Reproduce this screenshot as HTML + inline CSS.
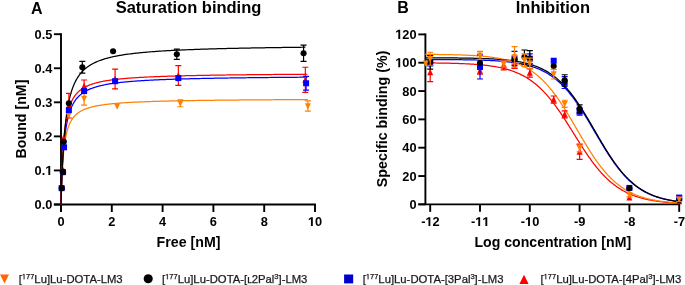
<!DOCTYPE html>
<html><head><meta charset="utf-8"><style>
html,body{margin:0;padding:0;background:#fff;width:685px;height:285px;overflow:hidden}
svg{display:block;will-change:transform}
.g1{fill:none;stroke:none}
</style></head><body>
<svg width="685" height="285" viewBox="0 0 685 285">
<rect width="685" height="285" fill="#fff"></rect>
<path d="M61 33.25V212" stroke="#000" stroke-width="1.9"></path>
<path d="M53.9 204.5H315.95" stroke="#000" stroke-width="1.9"></path>
<path d="M53.9 204.5H61" stroke="#000" stroke-width="1.9"></path>
<path d="M53.9 170.44H61" stroke="#000" stroke-width="1.9"></path>
<path d="M53.9 136.38H61" stroke="#000" stroke-width="1.9"></path>
<path d="M53.9 102.32H61" stroke="#000" stroke-width="1.9"></path>
<path d="M53.9 68.26H61" stroke="#000" stroke-width="1.9"></path>
<path d="M53.9 34.2H61" stroke="#000" stroke-width="1.9"></path>
<path d="M61 204.5V212" stroke="#000" stroke-width="1.9"></path>
<path d="M111.8 204.5V212" stroke="#000" stroke-width="1.9"></path>
<path d="M162.6 204.5V212" stroke="#000" stroke-width="1.9"></path>
<path d="M213.4 204.5V212" stroke="#000" stroke-width="1.9"></path>
<path d="M264.2 204.5V212" stroke="#000" stroke-width="1.9"></path>
<path d="M315 204.5V212" stroke="#000" stroke-width="1.9"></path>
<path d="M425.4 33.45V204.35" stroke="#000" stroke-width="1.9"></path>
<path d="M418.3 204.35H680.15" stroke="#000" stroke-width="1.9"></path>
<path d="M418.3 204.35H425.4" stroke="#000" stroke-width="1.9"></path>
<path d="M418.3 176.03H425.4" stroke="#000" stroke-width="1.9"></path>
<path d="M418.3 147.7H425.4" stroke="#000" stroke-width="1.9"></path>
<path d="M418.3 119.38H425.4" stroke="#000" stroke-width="1.9"></path>
<path d="M418.3 91.05H425.4" stroke="#000" stroke-width="1.9"></path>
<path d="M418.3 62.72H425.4" stroke="#000" stroke-width="1.9"></path>
<path d="M418.3 34.4H425.4" stroke="#000" stroke-width="1.9"></path>
<path d="M430.2 204.35V211.85" stroke="#000" stroke-width="1.9"></path>
<path d="M480 204.35V211.85" stroke="#000" stroke-width="1.9"></path>
<path d="M529.8 204.35V211.85" stroke="#000" stroke-width="1.9"></path>
<path d="M579.6 204.35V211.85" stroke="#000" stroke-width="1.9"></path>
<path d="M629.4 204.35V211.85" stroke="#000" stroke-width="1.9"></path>
<path d="M679.2 204.35V211.85" stroke="#000" stroke-width="1.9"></path>
<path d="M61 204.5 L61 204.47 L61 204.34 L61.01 204.12 L61.02 203.78 L61.03 203.33 L61.05 202.77 L61.06 202.08 L61.09 201.28 L61.11 200.37 L61.14 199.34 L61.17 198.21 L61.21 196.97 L61.25 195.65 L61.29 194.23 L61.34 192.73 L61.39 191.16 L61.45 189.53 L61.51 187.84 L61.57 186.1 L61.64 184.32 L61.71 182.51 L61.79 180.67 L61.87 178.81 L61.95 176.95 L62.04 175.07 L62.14 173.21 L62.24 171.34 L62.34 169.49 L62.45 167.66 L62.56 165.84 L62.67 164.06 L62.8 162.29 L62.92 160.56 L63.05 158.86 L63.19 157.2 L63.33 155.57 L63.47 153.97 L63.62 152.42 L63.77 150.9 L63.93 149.43 L64.1 147.99 L64.27 146.59 L64.44 145.24 L64.62 143.92 L64.8 142.64 L64.99 141.39 L65.18 140.19 L65.38 139.02 L65.58 137.89 L65.79 136.8 L66.01 135.74 L66.22 134.71 L66.45 133.71 L66.68 132.75 L66.91 131.82 L67.15 130.92 L67.39 130.05 L67.64 129.21 L67.9 128.39 L68.16 127.6 L68.42 126.84 L68.69 126.1 L68.97 125.39 L69.25 124.69 L69.54 124.03 L69.83 123.38 L70.12 122.75 L70.43 122.15 L70.73 121.56 L71.05 120.99 L71.37 120.44 L71.69 119.91 L72.02 119.39 L72.35 118.89 L72.69 118.41 L73.04 117.94 L73.39 117.49 L73.75 117.05 L74.11 116.62 L74.48 116.21 L74.85 115.81 L75.23 115.42 L75.62 115.04 L76.01 114.67 L76.4 114.32 L76.8 113.97 L77.21 113.64 L77.62 113.31 L78.04 113 L78.46 112.69 L78.89 112.39 L79.33 112.1 L79.77 111.82 L80.22 111.55 L80.67 111.28 L81.13 111.02 L81.59 110.77 L82.06 110.53 L82.54 110.29 L83.02 110.06 L83.51 109.83 L84 109.61 L84.5 109.4 L85.01 109.19 L85.52 108.99 L86.03 108.79 L86.56 108.6 L87.08 108.41 L87.62 108.23 L88.16 108.05 L88.7 107.88 L89.26 107.71 L89.81 107.55 L90.38 107.39 L90.95 107.23 L91.52 107.08 L92.11 106.93 L92.69 106.78 L93.29 106.64 L93.89 106.5 L94.49 106.37 L95.11 106.23 L95.72 106.1 L96.35 105.98 L96.98 105.85 L97.61 105.73 L98.26 105.62 L98.9 105.5 L99.56 105.39 L100.22 105.28 L100.89 105.17 L101.56 105.07 L102.24 104.96 L102.92 104.86 L103.62 104.76 L104.31 104.67 L105.02 104.57 L105.73 104.48 L106.44 104.39 L107.17 104.3 L107.89 104.22 L108.63 104.13 L109.37 104.05 L110.12 103.97 L110.87 103.89 L111.63 103.81 L112.4 103.73 L113.17 103.66 L113.95 103.58 L114.73 103.51 L115.52 103.44 L116.32 103.37 L117.12 103.3 L117.93 103.24 L118.75 103.17 L119.57 103.11 L120.4 103.04 L121.24 102.98 L122.08 102.92 L122.93 102.86 L123.78 102.81 L124.65 102.75 L125.51 102.69 L126.39 102.64 L127.27 102.58 L128.15 102.53 L129.05 102.48 L129.95 102.43 L130.85 102.38 L131.77 102.33 L132.68 102.28 L133.61 102.23 L134.54 102.18 L135.48 102.14 L136.43 102.09 L137.38 102.05 L138.33 102.01 L139.3 101.96 L140.27 101.92 L141.25 101.88 L142.23 101.84 L143.22 101.8 L144.22 101.76 L145.22 101.72 L146.23 101.68 L147.25 101.64 L148.27 101.61 L149.3 101.57 L150.34 101.54 L151.38 101.5 L152.43 101.47 L153.49 101.43 L154.55 101.4 L155.62 101.37 L156.7 101.33 L157.78 101.3 L158.87 101.27 L159.97 101.24 L161.07 101.21 L162.18 101.18 L163.3 101.15 L164.42 101.12 L165.55 101.09 L166.69 101.06 L167.83 101.04 L168.98 101.01 L170.14 100.98 L171.3 100.95 L172.47 100.93 L173.65 100.9 L174.83 100.88 L176.02 100.85 L177.22 100.83 L178.42 100.8 L179.63 100.78 L180.85 100.76 L182.07 100.73 L183.3 100.71 L184.54 100.69 L185.79 100.66 L187.04 100.64 L188.29 100.62 L189.56 100.6 L190.83 100.58 L192.11 100.56 L193.4 100.54 L194.69 100.52 L195.99 100.5 L197.29 100.48 L198.61 100.46 L199.92 100.44 L201.25 100.42 L202.58 100.4 L203.92 100.38 L205.27 100.36 L206.63 100.35 L207.99 100.33 L209.36 100.31 L210.73 100.29 L212.11 100.28 L213.5 100.26 L214.9 100.24 L216.3 100.23 L217.71 100.21 L219.12 100.2 L220.55 100.18 L221.98 100.16 L223.42 100.15 L224.86 100.13 L226.31 100.12 L227.77 100.1 L229.23 100.09 L230.71 100.08 L232.19 100.06 L233.67 100.05 L235.17 100.03 L236.67 100.02 L238.17 100.01 L239.69 99.99 L241.21 99.98 L242.74 99.97 L244.27 99.95 L245.81 99.94 L247.36 99.93 L248.92 99.92 L250.48 99.9 L252.05 99.89 L253.63 99.88 L255.22 99.87 L256.81 99.86 L258.41 99.84 L260.01 99.83 L261.63 99.82 L263.25 99.81 L264.88 99.8 L266.51 99.79 L268.15 99.78 L269.8 99.77 L271.46 99.76 L273.12 99.75 L274.79 99.73 L276.47 99.72 L278.15 99.71 L279.84 99.7 L281.54 99.69 L283.25 99.68 L284.96 99.68 L286.68 99.67 L288.41 99.66 L290.14 99.65 L291.89 99.64 L293.64 99.63 L295.39 99.62 L297.16 99.61 L298.93 99.6 L300.7 99.59 L302.49 99.58 L304.28 99.58 L306.08 99.57 L307.89 99.56" stroke="#FF8000" stroke-width="1.25" fill="none" stroke-linejoin="round"></path>
<path d="M61 204.5 L61 204.47 L61 204.35 L61.01 204.13 L61.02 203.81 L61.03 203.37 L61.05 202.83 L61.06 202.16 L61.08 201.38 L61.11 200.49 L61.14 199.48 L61.17 198.37 L61.21 197.15 L61.25 195.83 L61.29 194.41 L61.34 192.91 L61.39 191.32 L61.45 189.65 L61.51 187.92 L61.57 186.13 L61.64 184.27 L61.71 182.37 L61.79 180.44 L61.87 178.46 L61.95 176.46 L62.04 174.44 L62.13 172.4 L62.23 170.36 L62.34 168.31 L62.44 166.27 L62.55 164.23 L62.67 162.21 L62.79 160.2 L62.92 158.21 L63.05 156.24 L63.18 154.3 L63.32 152.38 L63.47 150.5 L63.61 148.65 L63.77 146.83 L63.93 145.05 L64.09 143.3 L64.26 141.6 L64.43 139.93 L64.61 138.29 L64.79 136.7 L64.98 135.15 L65.17 133.63 L65.37 132.15 L65.57 130.72 L65.78 129.32 L66 127.95 L66.21 126.63 L66.44 125.34 L66.67 124.09 L66.9 122.87 L67.14 121.69 L67.38 120.54 L67.63 119.42 L67.88 118.34 L68.14 117.28 L68.41 116.26 L68.68 115.27 L68.95 114.3 L69.23 113.37 L69.52 112.46 L69.81 111.58 L70.11 110.73 L70.41 109.9 L70.71 109.09 L71.03 108.31 L71.34 107.55 L71.67 106.81 L72 106.1 L72.33 105.4 L72.67 104.73 L73.02 104.07 L73.37 103.44 L73.72 102.82 L74.08 102.22 L74.45 101.64 L74.82 101.07 L75.2 100.52 L75.59 99.98 L75.97 99.46 L76.37 98.96 L76.77 98.47 L77.18 97.99 L77.59 97.53 L78.01 97.07 L78.43 96.63 L78.86 96.21 L79.29 95.79 L79.73 95.39 L80.18 94.99 L80.63 94.61 L81.09 94.23 L81.55 93.87 L82.02 93.52 L82.49 93.17 L82.98 92.84 L83.46 92.51 L83.95 92.19 L84.45 91.88 L84.96 91.58 L85.47 91.28 L85.98 90.99 L86.5 90.71 L87.03 90.44 L87.56 90.17 L88.1 89.91 L88.65 89.66 L89.2 89.41 L89.75 89.17 L90.32 88.93 L90.89 88.7 L91.46 88.47 L92.04 88.25 L92.63 88.04 L93.22 87.83 L93.82 87.62 L94.42 87.42 L95.04 87.23 L95.65 87.04 L96.27 86.85 L96.9 86.67 L97.54 86.49 L98.18 86.31 L98.83 86.14 L99.48 85.97 L100.14 85.81 L100.8 85.65 L101.48 85.49 L102.15 85.34 L102.84 85.19 L103.53 85.04 L104.22 84.9 L104.93 84.76 L105.63 84.62 L106.35 84.49 L107.07 84.35 L107.8 84.23 L108.53 84.1 L109.27 83.97 L110.02 83.85 L110.77 83.73 L111.53 83.62 L112.29 83.5 L113.06 83.39 L113.84 83.28 L114.62 83.17 L115.41 83.07 L116.21 82.96 L117.01 82.86 L117.82 82.76 L118.63 82.66 L119.45 82.57 L120.28 82.47 L121.12 82.38 L121.96 82.29 L122.8 82.2 L123.65 82.11 L124.51 82.02 L125.38 81.94 L126.25 81.86 L127.13 81.78 L128.02 81.7 L128.91 81.62 L129.8 81.54 L130.71 81.46 L131.62 81.39 L132.54 81.32 L133.46 81.25 L134.39 81.17 L135.33 81.11 L136.27 81.04 L137.22 80.97 L138.18 80.9 L139.14 80.84 L140.11 80.78 L141.08 80.71 L142.06 80.65 L143.05 80.59 L144.05 80.53 L145.05 80.47 L146.06 80.41 L147.07 80.36 L148.09 80.3 L149.12 80.25 L150.16 80.19 L151.2 80.14 L152.25 80.09 L153.3 80.04 L154.36 79.99 L155.43 79.94 L156.5 79.89 L157.58 79.84 L158.67 79.79 L159.76 79.74 L160.87 79.7 L161.97 79.65 L163.09 79.61 L164.21 79.56 L165.33 79.52 L166.47 79.48 L167.61 79.44 L168.76 79.39 L169.91 79.35 L171.07 79.31 L172.24 79.27 L173.41 79.23 L174.6 79.2 L175.78 79.16 L176.98 79.12 L178.18 79.08 L179.39 79.05 L180.6 79.01 L181.82 78.98 L183.05 78.94 L184.29 78.91 L185.53 78.87 L186.78 78.84 L188.03 78.81 L189.29 78.77 L190.56 78.74 L191.84 78.71 L193.12 78.68 L194.41 78.65 L195.71 78.62 L197.01 78.59 L198.32 78.56 L199.64 78.53 L200.96 78.5 L202.29 78.47 L203.63 78.44 L204.98 78.42 L206.33 78.39 L207.68 78.36 L209.05 78.33 L210.42 78.31 L211.8 78.28 L213.19 78.26 L214.58 78.23 L215.98 78.21 L217.39 78.18 L218.8 78.16 L220.22 78.13 L221.65 78.11 L223.08 78.09 L224.52 78.06 L225.97 78.04 L227.43 78.02 L228.89 78 L230.36 77.97 L231.83 77.95 L233.32 77.93 L234.81 77.91 L236.3 77.89 L237.81 77.87 L239.32 77.85 L240.84 77.83 L242.36 77.81 L243.89 77.79 L245.43 77.77 L246.98 77.75 L248.53 77.73 L250.09 77.71 L251.66 77.69 L253.24 77.67 L254.82 77.66 L256.41 77.64 L258 77.62 L259.61 77.6 L261.21 77.59 L262.83 77.57 L264.46 77.55 L266.09 77.54 L267.73 77.52 L269.37 77.5 L271.02 77.49 L272.68 77.47 L274.35 77.45 L276.02 77.44 L277.7 77.42 L279.39 77.41 L281.09 77.39 L282.79 77.38 L284.5 77.36 L286.22 77.35 L287.94 77.33 L289.67 77.32 L291.41 77.31 L293.16 77.29 L294.91 77.28 L296.67 77.26 L298.44 77.25 L300.21 77.24 L301.99 77.22 L303.78 77.21 L305.58 77.2 L307.38 77.18" stroke="#0000FF" stroke-width="1.25" fill="none" stroke-linejoin="round"></path>
<path d="M61 204.5 L61 204.46 L61 204.32 L61.01 204.06 L61.02 203.68 L61.03 203.16 L61.05 202.51 L61.06 201.73 L61.08 200.81 L61.11 199.76 L61.14 198.58 L61.17 197.27 L61.21 195.84 L61.25 194.31 L61.29 192.66 L61.34 190.92 L61.39 189.09 L61.45 187.18 L61.51 185.2 L61.57 183.16 L61.64 181.07 L61.71 178.93 L61.79 176.75 L61.87 174.55 L61.95 172.32 L62.04 170.09 L62.13 167.85 L62.23 165.61 L62.34 163.39 L62.44 161.17 L62.55 158.97 L62.67 156.8 L62.79 154.66 L62.92 152.54 L63.05 150.46 L63.18 148.41 L63.32 146.41 L63.47 144.44 L63.61 142.52 L63.77 140.64 L63.93 138.81 L64.09 137.02 L64.26 135.27 L64.43 133.57 L64.61 131.92 L64.79 130.31 L64.98 128.75 L65.17 127.23 L65.37 125.76 L65.57 124.32 L65.78 122.94 L66 121.59 L66.21 120.28 L66.44 119.01 L66.67 117.79 L66.9 116.6 L67.14 115.44 L67.38 114.33 L67.63 113.25 L67.88 112.2 L68.14 111.18 L68.41 110.2 L68.68 109.25 L68.95 108.32 L69.23 107.43 L69.52 106.56 L69.81 105.73 L70.11 104.91 L70.41 104.13 L70.71 103.36 L71.03 102.62 L71.34 101.91 L71.67 101.21 L72 100.54 L72.33 99.89 L72.67 99.26 L73.02 98.65 L73.37 98.05 L73.72 97.48 L74.08 96.92 L74.45 96.37 L74.82 95.85 L75.2 95.34 L75.59 94.84 L75.97 94.36 L76.37 93.89 L76.77 93.44 L77.18 93 L77.59 92.57 L78.01 92.15 L78.43 91.75 L78.86 91.36 L79.29 90.97 L79.73 90.6 L80.18 90.24 L80.63 89.89 L81.09 89.55 L81.55 89.22 L82.02 88.89 L82.49 88.58 L82.98 88.27 L83.46 87.97 L83.95 87.68 L84.45 87.4 L84.96 87.12 L85.47 86.86 L85.98 86.59 L86.5 86.34 L87.03 86.09 L87.56 85.85 L88.1 85.61 L88.65 85.38 L89.2 85.16 L89.75 84.94 L90.32 84.73 L90.89 84.52 L91.46 84.31 L92.04 84.11 L92.63 83.92 L93.22 83.73 L93.82 83.55 L94.42 83.37 L95.04 83.19 L95.65 83.02 L96.27 82.85 L96.9 82.68 L97.54 82.52 L98.18 82.37 L98.83 82.21 L99.48 82.06 L100.14 81.92 L100.8 81.77 L101.48 81.63 L102.15 81.49 L102.84 81.36 L103.53 81.23 L104.22 81.1 L104.93 80.97 L105.63 80.85 L106.35 80.73 L107.07 80.61 L107.8 80.5 L108.53 80.38 L109.27 80.27 L110.02 80.16 L110.77 80.06 L111.53 79.95 L112.29 79.85 L113.06 79.75 L113.84 79.65 L114.62 79.55 L115.41 79.46 L116.21 79.37 L117.01 79.28 L117.82 79.19 L118.63 79.1 L119.45 79.01 L120.28 78.93 L121.12 78.85 L121.96 78.77 L122.8 78.69 L123.65 78.61 L124.51 78.53 L125.38 78.46 L126.25 78.38 L127.13 78.31 L128.02 78.24 L128.91 78.17 L129.8 78.1 L130.71 78.03 L131.62 77.97 L132.54 77.9 L133.46 77.84 L134.39 77.78 L135.33 77.71 L136.27 77.65 L137.22 77.59 L138.18 77.54 L139.14 77.48 L140.11 77.42 L141.08 77.37 L142.06 77.31 L143.05 77.26 L144.05 77.2 L145.05 77.15 L146.06 77.1 L147.07 77.05 L148.09 77 L149.12 76.95 L150.16 76.9 L151.2 76.86 L152.25 76.81 L153.3 76.77 L154.36 76.72 L155.43 76.68 L156.5 76.63 L157.58 76.59 L158.67 76.55 L159.76 76.51 L160.87 76.47 L161.97 76.43 L163.09 76.39 L164.21 76.35 L165.33 76.31 L166.47 76.27 L167.61 76.23 L168.76 76.2 L169.91 76.16 L171.07 76.12 L172.24 76.09 L173.41 76.05 L174.6 76.02 L175.78 75.99 L176.98 75.95 L178.18 75.92 L179.39 75.89 L180.6 75.86 L181.82 75.83 L183.05 75.79 L184.29 75.76 L185.53 75.73 L186.78 75.7 L188.03 75.68 L189.29 75.65 L190.56 75.62 L191.84 75.59 L193.12 75.56 L194.41 75.54 L195.71 75.51 L197.01 75.48 L198.32 75.46 L199.64 75.43 L200.96 75.41 L202.29 75.38 L203.63 75.36 L204.98 75.33 L206.33 75.31 L207.68 75.28 L209.05 75.26 L210.42 75.24 L211.8 75.21 L213.19 75.19 L214.58 75.17 L215.98 75.15 L217.39 75.13 L218.8 75.1 L220.22 75.08 L221.65 75.06 L223.08 75.04 L224.52 75.02 L225.97 75 L227.43 74.98 L228.89 74.96 L230.36 74.94 L231.83 74.92 L233.32 74.9 L234.81 74.89 L236.3 74.87 L237.81 74.85 L239.32 74.83 L240.84 74.81 L242.36 74.79 L243.89 74.78 L245.43 74.76 L246.98 74.74 L248.53 74.73 L250.09 74.71 L251.66 74.69 L253.24 74.68 L254.82 74.66 L256.41 74.65 L258 74.63 L259.61 74.61 L261.21 74.6 L262.83 74.58 L264.46 74.57 L266.09 74.55 L267.73 74.54 L269.37 74.53 L271.02 74.51 L272.68 74.5 L274.35 74.48 L276.02 74.47 L277.7 74.46 L279.39 74.44 L281.09 74.43 L282.79 74.42 L284.5 74.4 L286.22 74.39 L287.94 74.38 L289.67 74.36 L291.41 74.35 L293.16 74.34 L294.91 74.33 L296.67 74.32 L298.44 74.3 L300.21 74.29 L301.99 74.28 L303.78 74.27 L305.58 74.26 L307.38 74.25" stroke="#FF0000" stroke-width="1.25" fill="none" stroke-linejoin="round"></path>
<path d="M61 204.5 L61 204.47 L61 204.35 L61.01 204.14 L61.02 203.83 L61.03 203.4 L61.04 202.87 L61.06 202.22 L61.08 201.46 L61.11 200.58 L61.14 199.59 L61.17 198.48 L61.21 197.27 L61.24 195.96 L61.29 194.54 L61.34 193.02 L61.39 191.41 L61.44 189.72 L61.5 187.94 L61.56 186.09 L61.63 184.17 L61.7 182.19 L61.78 180.15 L61.86 178.06 L61.94 175.93 L62.03 173.76 L62.13 171.56 L62.22 169.33 L62.32 167.09 L62.43 164.83 L62.54 162.56 L62.66 160.29 L62.78 158.02 L62.9 155.76 L63.03 153.5 L63.16 151.26 L63.3 149.04 L63.45 146.83 L63.59 144.65 L63.75 142.5 L63.9 140.37 L64.07 138.27 L64.23 136.2 L64.4 134.17 L64.58 132.17 L64.76 130.2 L64.95 128.27 L65.14 126.38 L65.34 124.53 L65.54 122.71 L65.74 120.94 L65.95 119.2 L66.17 117.5 L66.39 115.84 L66.62 114.22 L66.85 112.63 L67.09 111.08 L67.33 109.57 L67.57 108.1 L67.83 106.66 L68.08 105.26 L68.35 103.9 L68.61 102.57 L68.89 101.27 L69.16 100.01 L69.45 98.78 L69.74 97.58 L70.03 96.41 L70.33 95.27 L70.63 94.16 L70.94 93.08 L71.26 92.03 L71.58 91.01 L71.91 90.01 L72.24 89.04 L72.57 88.1 L72.92 87.18 L73.26 86.29 L73.62 85.41 L73.98 84.57 L74.34 83.74 L74.71 82.93 L75.08 82.15 L75.46 81.39 L75.85 80.64 L76.24 79.92 L76.64 79.21 L77.04 78.52 L77.45 77.85 L77.87 77.2 L78.29 76.57 L78.71 75.95 L79.14 75.34 L79.58 74.75 L80.02 74.18 L80.47 73.62 L80.92 73.07 L81.38 72.54 L81.85 72.02 L82.32 71.51 L82.79 71.02 L83.28 70.54 L83.76 70.07 L84.26 69.61 L84.76 69.16 L85.26 68.72 L85.78 68.3 L86.29 67.88 L86.82 67.47 L87.34 67.08 L87.88 66.69 L88.42 66.31 L88.97 65.94 L89.52 65.58 L90.08 65.22 L90.64 64.88 L91.21 64.54 L91.79 64.21 L92.37 63.89 L92.96 63.57 L93.55 63.26 L94.15 62.96 L94.75 62.67 L95.37 62.38 L95.98 62.1 L96.61 61.82 L97.24 61.55 L97.87 61.29 L98.51 61.03 L99.16 60.78 L99.82 60.53 L100.48 60.29 L101.14 60.05 L101.81 59.82 L102.49 59.59 L103.18 59.36 L103.87 59.15 L104.56 58.93 L105.27 58.72 L105.98 58.52 L106.69 58.31 L107.41 58.12 L108.14 57.92 L108.87 57.73 L109.61 57.55 L110.36 57.37 L111.11 57.19 L111.87 57.01 L112.63 56.84 L113.4 56.67 L114.18 56.51 L114.96 56.34 L115.75 56.18 L116.55 56.03 L117.35 55.87 L118.16 55.72 L118.97 55.58 L119.79 55.43 L120.62 55.29 L121.45 55.15 L122.29 55.01 L123.14 54.88 L123.99 54.74 L124.85 54.61 L125.71 54.49 L126.59 54.36 L127.46 54.24 L128.35 54.12 L129.24 54 L130.13 53.88 L131.04 53.77 L131.95 53.65 L132.86 53.54 L133.79 53.43 L134.71 53.33 L135.65 53.22 L136.59 53.12 L137.54 53.01 L138.49 52.91 L139.45 52.82 L140.42 52.72 L141.4 52.62 L142.38 52.53 L143.36 52.44 L144.36 52.35 L145.36 52.26 L146.36 52.17 L147.38 52.08 L148.4 52 L149.42 51.91 L150.45 51.83 L151.49 51.75 L152.54 51.67 L153.59 51.59 L154.65 51.51 L155.71 51.44 L156.79 51.36 L157.87 51.29 L158.95 51.22 L160.04 51.14 L161.14 51.07 L162.24 51 L163.36 50.93 L164.47 50.87 L165.6 50.8 L166.73 50.73 L167.87 50.67 L169.01 50.61 L170.16 50.54 L171.32 50.48 L172.49 50.42 L173.66 50.36 L174.84 50.3 L176.02 50.24 L177.21 50.19 L178.41 50.13 L179.62 50.07 L180.83 50.02 L182.04 49.96 L183.27 49.91 L184.5 49.86 L185.74 49.8 L186.98 49.75 L188.24 49.7 L189.5 49.65 L190.76 49.6 L192.03 49.55 L193.31 49.51 L194.6 49.46 L195.89 49.41 L197.19 49.37 L198.5 49.32 L199.81 49.28 L201.13 49.23 L202.45 49.19 L203.79 49.14 L205.13 49.1 L206.48 49.06 L207.83 49.02 L209.19 48.98 L210.56 48.94 L211.93 48.9 L213.31 48.86 L214.7 48.82 L216.1 48.78 L217.5 48.74 L218.91 48.7 L220.32 48.67 L221.74 48.63 L223.17 48.59 L224.61 48.56 L226.05 48.52 L227.5 48.49 L228.96 48.45 L230.42 48.42 L231.9 48.39 L233.37 48.35 L234.86 48.32 L236.35 48.29 L237.85 48.26 L239.35 48.22 L240.87 48.19 L242.39 48.16 L243.91 48.13 L245.45 48.1 L246.99 48.07 L248.53 48.04 L250.09 48.01 L251.65 47.98 L253.22 47.96 L254.79 47.93 L256.38 47.9 L257.97 47.87 L259.56 47.84 L261.17 47.82 L262.78 47.79 L264.4 47.76 L266.02 47.74 L267.65 47.71 L269.29 47.69 L270.94 47.66 L272.59 47.64 L274.25 47.61 L275.92 47.59 L277.59 47.57 L279.27 47.54 L280.96 47.52 L282.66 47.49 L284.36 47.47 L286.07 47.45 L287.79 47.43 L289.51 47.4 L291.24 47.38 L292.98 47.36 L294.73 47.34 L296.48 47.32 L298.24 47.3 L300 47.28 L301.78 47.25 L303.56 47.23 L305.35 47.21" stroke="#000000" stroke-width="1.25" fill="none" stroke-linejoin="round"></path>
<path d="M84.11 92.1V105.04M81.11 92.1H87.11M81.11 105.04H87.11" stroke="#FF8000" stroke-width="1.2" fill="none"></path>
<path d="M180.38 99.94V106.75M177.38 99.94H183.38M177.38 106.75H183.38" stroke="#FF8000" stroke-width="1.2" fill="none"></path>
<path d="M307.89 100.96V111.18M304.89 100.96H310.89M304.89 111.18H310.89" stroke="#FF8000" stroke-width="1.2" fill="none"></path>
<path d="M68.87 93.46V117.99M65.87 93.46H71.87M65.87 117.99H71.87" stroke="#FF0000" stroke-width="1.2" fill="none"></path>
<path d="M84.11 80.01V92.27M81.11 80.01H87.11M81.11 92.27H87.11" stroke="#FF0000" stroke-width="1.2" fill="none"></path>
<path d="M115.1 69.11V88.87M112.1 69.11H118.1M112.1 88.87H118.1" stroke="#FF0000" stroke-width="1.2" fill="none"></path>
<path d="M178.35 65.64V85.39M175.35 65.64H181.35M175.35 85.39H181.35" stroke="#FF0000" stroke-width="1.2" fill="none"></path>
<path d="M305.35 67.24V92.44M302.35 67.24H308.35M302.35 92.44H308.35" stroke="#FF0000" stroke-width="1.2" fill="none"></path>
<path d="M306.11 76.43V90.06M303.11 76.43H309.11M303.11 90.06H309.11" stroke="#0000FF" stroke-width="1.2" fill="none"></path>
<path d="M82.34 61.45V73.03M79.34 61.45H85.34M79.34 73.03H85.34" stroke="#000000" stroke-width="1.2" fill="none"></path>
<path d="M176.82 49.19V59.4M173.82 49.19H179.82M173.82 59.4H179.82" stroke="#000000" stroke-width="1.2" fill="none"></path>
<path d="M303.57 45.1V61.45M300.57 45.1H306.57M300.57 61.45H306.57" stroke="#000000" stroke-width="1.2" fill="none"></path>
<path d="M68.62 118.71L71.62 112.41L65.62 112.41Z" fill="#FF8000"></path>
<path d="M84.11 102.02L87.11 95.72L81.11 95.72Z" fill="#FF8000"></path>
<path d="M117.13 109.86L120.13 103.56L114.13 103.56Z" fill="#FF8000"></path>
<path d="M180.38 106.79L183.38 100.49L177.38 100.49Z" fill="#FF8000"></path>
<path d="M307.89 109.52L310.89 103.22L304.89 103.22Z" fill="#FF8000"></path>
<path d="M62.02 184.02L65.02 190.32L59.02 190.32Z" fill="#FF0000"></path>
<path d="M63.54 166.99L66.54 173.29L60.54 173.29Z" fill="#FF0000"></path>
<path d="M63.54 134.63L66.54 140.93L60.54 140.93Z" fill="#FF0000"></path>
<path d="M68.87 102.28L71.87 108.58L65.87 108.58Z" fill="#FF0000"></path>
<path d="M84.11 82.69L87.11 88.99L81.11 88.99Z" fill="#FF0000"></path>
<path d="M115.1 75.54L118.1 81.84L112.1 81.84Z" fill="#FF0000"></path>
<path d="M178.35 72.06L181.35 78.36L175.35 78.36Z" fill="#FF0000"></path>
<path d="M305.35 76.39L308.35 82.69L302.35 82.69Z" fill="#FF0000"></path>
<rect x="58.63" y="185.15" width="6" height="6" fill="#0000FF"></rect>
<rect x="60.03" y="169.14" width="6" height="6" fill="#0000FF"></rect>
<rect x="61.05" y="144.28" width="6" height="6" fill="#0000FF"></rect>
<rect x="65.87" y="107.15" width="6" height="6" fill="#0000FF"></rect>
<rect x="81.11" y="88.08" width="6" height="6" fill="#0000FF"></rect>
<rect x="112.1" y="78.2" width="6" height="6" fill="#0000FF"></rect>
<rect x="175.35" y="75.14" width="6" height="6" fill="#0000FF"></rect>
<rect x="303.11" y="80.25" width="6" height="6" fill="#0000FF"></rect>
<circle cx="61.76" cy="188.15" r="3.06" fill="#000000"></circle>
<circle cx="62.78" cy="172.14" r="3.06" fill="#000000"></circle>
<circle cx="63.79" cy="141.83" r="3.06" fill="#000000"></circle>
<circle cx="68.87" cy="103.34" r="3.06" fill="#000000"></circle>
<circle cx="82.34" cy="67.24" r="3.06" fill="#000000"></circle>
<circle cx="113.07" cy="51.23" r="3.06" fill="#000000"></circle>
<circle cx="176.82" cy="54.3" r="3.06" fill="#000000"></circle>
<circle cx="303.57" cy="53.27" r="3.06" fill="#000000"></circle>
<path d="M425.22 62.89 L426.07 62.9 L426.91 62.91 L427.76 62.91 L428.61 62.92 L429.45 62.93 L430.3 62.94 L431.15 62.95 L431.99 62.95 L432.84 62.96 L433.69 62.97 L434.53 62.98 L435.38 62.99 L436.23 63 L437.07 63.01 L437.92 63.03 L438.77 63.04 L439.61 63.05 L440.46 63.06 L441.31 63.08 L442.15 63.09 L443 63.1 L443.85 63.12 L444.69 63.13 L445.54 63.15 L446.39 63.17 L447.23 63.18 L448.08 63.2 L448.92 63.22 L449.77 63.24 L450.62 63.26 L451.46 63.28 L452.31 63.3 L453.16 63.32 L454 63.35 L454.85 63.37 L455.7 63.4 L456.54 63.42 L457.39 63.45 L458.24 63.48 L459.08 63.51 L459.93 63.54 L460.78 63.57 L461.62 63.6 L462.47 63.63 L463.32 63.67 L464.16 63.71 L465.01 63.75 L465.86 63.78 L466.7 63.83 L467.55 63.87 L468.4 63.91 L469.24 63.96 L470.09 64.01 L470.94 64.06 L471.78 64.11 L472.63 64.16 L473.48 64.22 L474.32 64.27 L475.17 64.33 L476.02 64.4 L476.86 64.46 L477.71 64.53 L478.56 64.6 L479.4 64.67 L480.25 64.75 L481.1 64.82 L481.94 64.9 L482.79 64.99 L483.64 65.07 L484.48 65.17 L485.33 65.26 L486.18 65.36 L487.02 65.46 L487.87 65.56 L488.72 65.67 L489.56 65.78 L490.41 65.9 L491.25 66.02 L492.1 66.15 L492.95 66.28 L493.79 66.41 L494.64 66.55 L495.49 66.7 L496.33 66.85 L497.18 67.01 L498.03 67.17 L498.87 67.34 L499.72 67.51 L500.57 67.69 L501.41 67.88 L502.26 68.07 L503.11 68.27 L503.95 68.48 L504.8 68.7 L505.65 68.92 L506.49 69.15 L507.34 69.39 L508.19 69.64 L509.03 69.9 L509.88 70.16 L510.73 70.44 L511.57 70.72 L512.42 71.02 L513.27 71.32 L514.11 71.63 L514.96 71.96 L515.81 72.3 L516.65 72.65 L517.5 73.01 L518.35 73.38 L519.19 73.76 L520.04 74.16 L520.89 74.57 L521.73 74.99 L522.58 75.43 L523.43 75.88 L524.27 76.34 L525.12 76.82 L525.97 77.32 L526.81 77.83 L527.66 78.35 L528.51 78.89 L529.35 79.45 L530.2 80.02 L531.04 80.62 L531.89 81.22 L532.74 81.85 L533.58 82.49 L534.43 83.15 L535.28 83.83 L536.12 84.53 L536.97 85.25 L537.82 85.99 L538.66 86.74 L539.51 87.52 L540.36 88.31 L541.2 89.13 L542.05 89.96 L542.9 90.81 L543.74 91.69 L544.59 92.58 L545.44 93.49 L546.28 94.43 L547.13 95.38 L547.98 96.36 L548.82 97.35 L549.67 98.36 L550.52 99.4 L551.36 100.45 L552.21 101.52 L553.06 102.61 L553.9 103.72 L554.75 104.84 L555.6 105.99 L556.44 107.15 L557.29 108.33 L558.14 109.52 L558.98 110.73 L559.83 111.95 L560.68 113.19 L561.52 114.45 L562.37 115.71 L563.22 116.99 L564.06 118.28 L564.91 119.58 L565.76 120.89 L566.6 122.21 L567.45 123.54 L568.3 124.87 L569.14 126.21 L569.99 127.56 L570.84 128.91 L571.68 130.26 L572.53 131.62 L573.38 132.98 L574.22 134.34 L575.07 135.69 L575.91 137.05 L576.76 138.4 L577.61 139.75 L578.45 141.1 L579.3 142.44 L580.15 143.77 L580.99 145.1 L581.84 146.42 L582.69 147.72 L583.53 149.02 L584.38 150.31 L585.23 151.59 L586.07 152.85 L586.92 154.1 L587.77 155.34 L588.61 156.56 L589.46 157.77 L590.31 158.96 L591.15 160.13 L592 161.29 L592.85 162.43 L593.69 163.55 L594.54 164.66 L595.39 165.75 L596.23 166.81 L597.08 167.86 L597.93 168.89 L598.77 169.9 L599.62 170.89 L600.47 171.86 L601.31 172.81 L602.16 173.74 L603.01 174.65 L603.85 175.54 L604.7 176.41 L605.55 177.26 L606.39 178.09 L607.24 178.91 L608.09 179.7 L608.93 180.47 L609.78 181.22 L610.63 181.95 L611.47 182.67 L612.32 183.36 L613.17 184.04 L614.01 184.7 L614.86 185.34 L615.71 185.96 L616.55 186.56 L617.4 187.15 L618.24 187.72 L619.09 188.28 L619.94 188.82 L620.78 189.34 L621.63 189.85 L622.48 190.34 L623.32 190.82 L624.17 191.28 L625.02 191.73 L625.86 192.16 L626.71 192.58 L627.56 192.99 L628.4 193.38 L629.25 193.76 L630.1 194.13 L630.94 194.49 L631.79 194.84 L632.64 195.17 L633.48 195.5 L634.33 195.81 L635.18 196.11 L636.02 196.41 L636.87 196.69 L637.72 196.96 L638.56 197.23 L639.41 197.48 L640.26 197.73 L641.1 197.96 L641.95 198.19 L642.8 198.42 L643.64 198.63 L644.49 198.84 L645.34 199.04 L646.18 199.23 L647.03 199.42 L647.88 199.6 L648.72 199.77 L649.57 199.94 L650.42 200.1 L651.26 200.25 L652.11 200.4 L652.96 200.55 L653.8 200.69 L654.65 200.82 L655.5 200.95 L656.34 201.08 L657.19 201.2 L658.03 201.31 L658.88 201.42 L659.73 201.53 L660.57 201.64 L661.42 201.74 L662.27 201.83 L663.11 201.93 L663.96 202.02 L664.81 202.1 L665.65 202.19 L666.5 202.27 L667.35 202.34 L668.19 202.42 L669.04 202.49 L669.89 202.56 L670.73 202.63 L671.58 202.69 L672.43 202.75 L673.27 202.81 L674.12 202.87 L674.97 202.92 L675.81 202.98 L676.66 203.03 L677.51 203.08 L678.35 203.12 L679.2 203.17" stroke="#FF0000" stroke-width="1.25" fill="none" stroke-linejoin="round"></path>
<path d="M425.22 59.52 L426.07 59.52 L426.91 59.52 L427.76 59.52 L428.61 59.52 L429.45 59.53 L430.3 59.53 L431.15 59.53 L431.99 59.53 L432.84 59.54 L433.69 59.54 L434.53 59.54 L435.38 59.55 L436.23 59.55 L437.07 59.55 L437.92 59.56 L438.77 59.56 L439.61 59.56 L440.46 59.57 L441.31 59.57 L442.15 59.58 L443 59.58 L443.85 59.58 L444.69 59.59 L445.54 59.59 L446.39 59.6 L447.23 59.6 L448.08 59.61 L448.92 59.62 L449.77 59.62 L450.62 59.63 L451.46 59.64 L452.31 59.64 L453.16 59.65 L454 59.66 L454.85 59.66 L455.7 59.67 L456.54 59.68 L457.39 59.69 L458.24 59.7 L459.08 59.71 L459.93 59.72 L460.78 59.73 L461.62 59.74 L462.47 59.75 L463.32 59.76 L464.16 59.77 L465.01 59.78 L465.86 59.8 L466.7 59.81 L467.55 59.82 L468.4 59.84 L469.24 59.85 L470.09 59.87 L470.94 59.89 L471.78 59.9 L472.63 59.92 L473.48 59.94 L474.32 59.96 L475.17 59.98 L476.02 60 L476.86 60.02 L477.71 60.04 L478.56 60.07 L479.4 60.09 L480.25 60.12 L481.1 60.14 L481.94 60.17 L482.79 60.2 L483.64 60.23 L484.48 60.26 L485.33 60.29 L486.18 60.32 L487.02 60.36 L487.87 60.4 L488.72 60.43 L489.56 60.47 L490.41 60.51 L491.25 60.55 L492.1 60.6 L492.95 60.64 L493.79 60.69 L494.64 60.74 L495.49 60.79 L496.33 60.85 L497.18 60.9 L498.03 60.96 L498.87 61.02 L499.72 61.08 L500.57 61.15 L501.41 61.21 L502.26 61.28 L503.11 61.36 L503.95 61.43 L504.8 61.51 L505.65 61.59 L506.49 61.68 L507.34 61.77 L508.19 61.86 L509.03 61.96 L509.88 62.06 L510.73 62.16 L511.57 62.27 L512.42 62.38 L513.27 62.5 L514.11 62.62 L514.96 62.74 L515.81 62.87 L516.65 63.01 L517.5 63.15 L518.35 63.29 L519.19 63.44 L520.04 63.6 L520.89 63.77 L521.73 63.94 L522.58 64.11 L523.43 64.29 L524.27 64.48 L525.12 64.68 L525.97 64.89 L526.81 65.1 L527.66 65.32 L528.51 65.55 L529.35 65.78 L530.2 66.03 L531.04 66.28 L531.89 66.55 L532.74 66.82 L533.58 67.1 L534.43 67.4 L535.28 67.7 L536.12 68.02 L536.97 68.35 L537.82 68.68 L538.66 69.03 L539.51 69.4 L540.36 69.77 L541.2 70.16 L542.05 70.56 L542.9 70.98 L543.74 71.41 L544.59 71.86 L545.44 72.32 L546.28 72.79 L547.13 73.28 L547.98 73.79 L548.82 74.31 L549.67 74.85 L550.52 75.41 L551.36 75.99 L552.21 76.58 L553.06 77.19 L553.9 77.82 L554.75 78.47 L555.6 79.14 L556.44 79.83 L557.29 80.54 L558.14 81.27 L558.98 82.02 L559.83 82.79 L560.68 83.58 L561.52 84.39 L562.37 85.23 L563.22 86.08 L564.06 86.96 L564.91 87.86 L565.76 88.79 L566.6 89.73 L567.45 90.7 L568.3 91.69 L569.14 92.7 L569.99 93.73 L570.84 94.79 L571.68 95.86 L572.53 96.96 L573.38 98.08 L574.22 99.23 L575.07 100.39 L575.91 101.57 L576.76 102.77 L577.61 103.99 L578.45 105.24 L579.3 106.49 L580.15 107.77 L580.99 109.07 L581.84 110.38 L582.69 111.7 L583.53 113.04 L584.38 114.4 L585.23 115.77 L586.07 117.15 L586.92 118.54 L587.77 119.94 L588.61 121.35 L589.46 122.77 L590.31 124.2 L591.15 125.63 L592 127.07 L592.85 128.51 L593.69 129.95 L594.54 131.4 L595.39 132.84 L596.23 134.29 L597.08 135.73 L597.93 137.17 L598.77 138.61 L599.62 140.04 L600.47 141.47 L601.31 142.88 L602.16 144.29 L603.01 145.69 L603.85 147.08 L604.7 148.46 L605.55 149.82 L606.39 151.17 L607.24 152.51 L608.09 153.83 L608.93 155.13 L609.78 156.42 L610.63 157.7 L611.47 158.95 L612.32 160.18 L613.17 161.4 L614.01 162.6 L614.86 163.77 L615.71 164.93 L616.55 166.07 L617.4 167.18 L618.24 168.27 L619.09 169.34 L619.94 170.39 L620.78 171.42 L621.63 172.42 L622.48 173.41 L623.32 174.37 L624.17 175.31 L625.02 176.22 L625.86 177.12 L626.71 177.99 L627.56 178.84 L628.4 179.67 L629.25 180.47 L630.1 181.26 L630.94 182.02 L631.79 182.77 L632.64 183.49 L633.48 184.19 L634.33 184.88 L635.18 185.54 L636.02 186.18 L636.87 186.81 L637.72 187.41 L638.56 188 L639.41 188.57 L640.26 189.13 L641.1 189.66 L641.95 190.18 L642.8 190.68 L643.64 191.17 L644.49 191.64 L645.34 192.09 L646.18 192.53 L647.03 192.96 L647.88 193.37 L648.72 193.77 L649.57 194.16 L650.42 194.53 L651.26 194.89 L652.11 195.23 L652.96 195.57 L653.8 195.89 L654.65 196.21 L655.5 196.51 L656.34 196.8 L657.19 197.08 L658.03 197.35 L658.88 197.61 L659.73 197.86 L660.57 198.11 L661.42 198.34 L662.27 198.57 L663.11 198.78 L663.96 198.99 L664.81 199.2 L665.65 199.39 L666.5 199.58 L667.35 199.76 L668.19 199.93 L669.04 200.1 L669.89 200.26 L670.73 200.42 L671.58 200.57 L672.43 200.71 L673.27 200.85 L674.12 200.99 L674.97 201.11 L675.81 201.24 L676.66 201.36 L677.51 201.47 L678.35 201.58 L679.2 201.69" stroke="#0000FF" stroke-width="1.25" fill="none" stroke-linejoin="round"></path>
<path d="M425.22 57.82 L426.07 57.82 L426.91 57.82 L427.76 57.82 L428.61 57.83 L429.45 57.83 L430.3 57.83 L431.15 57.83 L431.99 57.84 L432.84 57.84 L433.69 57.84 L434.53 57.84 L435.38 57.85 L436.23 57.85 L437.07 57.85 L437.92 57.86 L438.77 57.86 L439.61 57.86 L440.46 57.87 L441.31 57.87 L442.15 57.88 L443 57.88 L443.85 57.89 L444.69 57.89 L445.54 57.9 L446.39 57.9 L447.23 57.91 L448.08 57.91 L448.92 57.92 L449.77 57.92 L450.62 57.93 L451.46 57.94 L452.31 57.94 L453.16 57.95 L454 57.96 L454.85 57.97 L455.7 57.97 L456.54 57.98 L457.39 57.99 L458.24 58 L459.08 58.01 L459.93 58.02 L460.78 58.03 L461.62 58.04 L462.47 58.05 L463.32 58.06 L464.16 58.07 L465.01 58.09 L465.86 58.1 L466.7 58.11 L467.55 58.13 L468.4 58.14 L469.24 58.16 L470.09 58.17 L470.94 58.19 L471.78 58.2 L472.63 58.22 L473.48 58.24 L474.32 58.26 L475.17 58.28 L476.02 58.3 L476.86 58.32 L477.71 58.35 L478.56 58.37 L479.4 58.39 L480.25 58.42 L481.1 58.44 L481.94 58.47 L482.79 58.5 L483.64 58.53 L484.48 58.56 L485.33 58.59 L486.18 58.63 L487.02 58.66 L487.87 58.7 L488.72 58.74 L489.56 58.77 L490.41 58.82 L491.25 58.86 L492.1 58.9 L492.95 58.95 L493.79 58.99 L494.64 59.04 L495.49 59.1 L496.33 59.15 L497.18 59.21 L498.03 59.26 L498.87 59.32 L499.72 59.39 L500.57 59.45 L501.41 59.52 L502.26 59.59 L503.11 59.66 L503.95 59.74 L504.8 59.82 L505.65 59.9 L506.49 59.99 L507.34 60.07 L508.19 60.17 L509.03 60.26 L509.88 60.36 L510.73 60.47 L511.57 60.57 L512.42 60.69 L513.27 60.8 L514.11 60.92 L514.96 61.05 L515.81 61.18 L516.65 61.32 L517.5 61.46 L518.35 61.6 L519.19 61.76 L520.04 61.91 L520.89 62.08 L521.73 62.25 L522.58 62.42 L523.43 62.61 L524.27 62.8 L525.12 62.99 L525.97 63.2 L526.81 63.41 L527.66 63.63 L528.51 63.86 L529.35 64.1 L530.2 64.35 L531.04 64.6 L531.89 64.87 L532.74 65.14 L533.58 65.43 L534.43 65.72 L535.28 66.03 L536.12 66.34 L536.97 66.67 L537.82 67.01 L538.66 67.36 L539.51 67.73 L540.36 68.1 L541.2 68.49 L542.05 68.9 L542.9 69.32 L543.74 69.75 L544.59 70.19 L545.44 70.66 L546.28 71.13 L547.13 71.63 L547.98 72.14 L548.82 72.66 L549.67 73.2 L550.52 73.76 L551.36 74.34 L552.21 74.94 L553.06 75.55 L553.9 76.19 L554.75 76.84 L555.6 77.51 L556.44 78.2 L557.29 78.92 L558.14 79.65 L558.98 80.4 L559.83 81.18 L560.68 81.97 L561.52 82.79 L562.37 83.63 L563.22 84.49 L564.06 85.37 L564.91 86.28 L565.76 87.21 L566.6 88.16 L567.45 89.13 L568.3 90.13 L569.14 91.15 L569.99 92.19 L570.84 93.25 L571.68 94.33 L572.53 95.44 L573.38 96.57 L574.22 97.72 L575.07 98.89 L575.91 100.08 L576.76 101.29 L577.61 102.52 L578.45 103.78 L579.3 105.05 L580.15 106.33 L580.99 107.64 L581.84 108.96 L582.69 110.3 L583.53 111.65 L584.38 113.02 L585.23 114.4 L586.07 115.79 L586.92 117.2 L587.77 118.61 L588.61 120.04 L589.46 121.47 L590.31 122.92 L591.15 124.36 L592 125.82 L592.85 127.28 L593.69 128.74 L594.54 130.2 L595.39 131.66 L596.23 133.12 L597.08 134.59 L597.93 136.04 L598.77 137.5 L599.62 138.95 L600.47 140.39 L601.31 141.83 L602.16 143.25 L603.01 144.67 L603.85 146.08 L604.7 147.47 L605.55 148.86 L606.39 150.23 L607.24 151.58 L608.09 152.92 L608.93 154.25 L609.78 155.56 L610.63 156.85 L611.47 158.12 L612.32 159.37 L613.17 160.61 L614.01 161.82 L614.86 163.02 L615.71 164.19 L616.55 165.35 L617.4 166.48 L618.24 167.59 L619.09 168.68 L619.94 169.75 L620.78 170.79 L621.63 171.81 L622.48 172.81 L623.32 173.79 L624.17 174.74 L625.02 175.68 L625.86 176.58 L626.71 177.47 L627.56 178.34 L628.4 179.18 L629.25 180 L630.1 180.8 L630.94 181.58 L631.79 182.34 L632.64 183.07 L633.48 183.79 L634.33 184.49 L635.18 185.16 L636.02 185.82 L636.87 186.45 L637.72 187.07 L638.56 187.67 L639.41 188.25 L640.26 188.82 L641.1 189.36 L641.95 189.89 L642.8 190.4 L643.64 190.9 L644.49 191.38 L645.34 191.84 L646.18 192.29 L647.03 192.73 L647.88 193.15 L648.72 193.55 L649.57 193.95 L650.42 194.33 L651.26 194.69 L652.11 195.05 L652.96 195.39 L653.8 195.72 L654.65 196.04 L655.5 196.34 L656.34 196.64 L657.19 196.93 L658.03 197.2 L658.88 197.47 L659.73 197.73 L660.57 197.98 L661.42 198.21 L662.27 198.44 L663.11 198.67 L663.96 198.88 L664.81 199.09 L665.65 199.29 L666.5 199.48 L667.35 199.66 L668.19 199.84 L669.04 200.01 L669.89 200.18 L670.73 200.34 L671.58 200.49 L672.43 200.64 L673.27 200.78 L674.12 200.91 L674.97 201.05 L675.81 201.17 L676.66 201.29 L677.51 201.41 L678.35 201.52 L679.2 201.63" stroke="#000000" stroke-width="1.25" fill="none" stroke-linejoin="round"></path>
<path d="M425.22 54.37 L426.07 54.38 L426.91 54.38 L427.76 54.39 L428.61 54.4 L429.45 54.4 L430.3 54.41 L431.15 54.42 L431.99 54.43 L432.84 54.43 L433.69 54.44 L434.53 54.45 L435.38 54.46 L436.23 54.47 L437.07 54.48 L437.92 54.49 L438.77 54.5 L439.61 54.51 L440.46 54.52 L441.31 54.53 L442.15 54.54 L443 54.55 L443.85 54.57 L444.69 54.58 L445.54 54.59 L446.39 54.61 L447.23 54.62 L448.08 54.64 L448.92 54.66 L449.77 54.67 L450.62 54.69 L451.46 54.71 L452.31 54.73 L453.16 54.75 L454 54.77 L454.85 54.79 L455.7 54.81 L456.54 54.83 L457.39 54.86 L458.24 54.88 L459.08 54.91 L459.93 54.94 L460.78 54.96 L461.62 54.99 L462.47 55.02 L463.32 55.05 L464.16 55.09 L465.01 55.12 L465.86 55.15 L466.7 55.19 L467.55 55.23 L468.4 55.27 L469.24 55.31 L470.09 55.35 L470.94 55.4 L471.78 55.44 L472.63 55.49 L473.48 55.54 L474.32 55.59 L475.17 55.64 L476.02 55.7 L476.86 55.76 L477.71 55.82 L478.56 55.88 L479.4 55.94 L480.25 56.01 L481.1 56.08 L481.94 56.15 L482.79 56.23 L483.64 56.3 L484.48 56.38 L485.33 56.47 L486.18 56.55 L487.02 56.65 L487.87 56.74 L488.72 56.84 L489.56 56.94 L490.41 57.04 L491.25 57.15 L492.1 57.27 L492.95 57.38 L493.79 57.5 L494.64 57.63 L495.49 57.76 L496.33 57.9 L497.18 58.04 L498.03 58.19 L498.87 58.34 L499.72 58.5 L500.57 58.66 L501.41 58.83 L502.26 59.01 L503.11 59.19 L503.95 59.38 L504.8 59.58 L505.65 59.78 L506.49 59.99 L507.34 60.21 L508.19 60.43 L509.03 60.67 L509.88 60.91 L510.73 61.16 L511.57 61.43 L512.42 61.7 L513.27 61.98 L514.11 62.27 L514.96 62.57 L515.81 62.88 L516.65 63.2 L517.5 63.53 L518.35 63.87 L519.19 64.23 L520.04 64.6 L520.89 64.98 L521.73 65.37 L522.58 65.78 L523.43 66.2 L524.27 66.63 L525.12 67.08 L525.97 67.54 L526.81 68.02 L527.66 68.51 L528.51 69.02 L529.35 69.55 L530.2 70.09 L531.04 70.65 L531.89 71.22 L532.74 71.81 L533.58 72.43 L534.43 73.05 L535.28 73.7 L536.12 74.37 L536.97 75.05 L537.82 75.76 L538.66 76.48 L539.51 77.23 L540.36 77.99 L541.2 78.78 L542.05 79.58 L542.9 80.41 L543.74 81.26 L544.59 82.13 L545.44 83.02 L546.28 83.93 L547.13 84.87 L547.98 85.82 L548.82 86.8 L549.67 87.8 L550.52 88.82 L551.36 89.86 L552.21 90.93 L553.06 92.01 L553.9 93.12 L554.75 94.24 L555.6 95.39 L556.44 96.56 L557.29 97.75 L558.14 98.96 L558.98 100.18 L559.83 101.43 L560.68 102.69 L561.52 103.97 L562.37 105.27 L563.22 106.58 L564.06 107.91 L564.91 109.25 L565.76 110.61 L566.6 111.98 L567.45 113.36 L568.3 114.76 L569.14 116.16 L569.99 117.58 L570.84 119 L571.68 120.43 L572.53 121.87 L573.38 123.31 L574.22 124.76 L575.07 126.21 L575.91 127.66 L576.76 129.12 L577.61 130.57 L578.45 132.03 L579.3 133.48 L580.15 134.92 L580.99 136.37 L581.84 137.81 L582.69 139.24 L583.53 140.66 L584.38 142.08 L585.23 143.49 L586.07 144.89 L586.92 146.27 L587.77 147.65 L588.61 149.01 L589.46 150.35 L590.31 151.69 L591.15 153 L592 154.3 L592.85 155.59 L593.69 156.86 L594.54 158.1 L595.39 159.34 L596.23 160.55 L597.08 161.74 L597.93 162.91 L598.77 164.06 L599.62 165.2 L600.47 166.31 L601.31 167.4 L602.16 168.47 L603.01 169.51 L603.85 170.54 L604.7 171.54 L605.55 172.53 L606.39 173.49 L607.24 174.43 L608.09 175.34 L608.93 176.24 L609.78 177.12 L610.63 177.97 L611.47 178.8 L612.32 179.61 L613.17 180.4 L614.01 181.17 L614.86 181.92 L615.71 182.65 L616.55 183.36 L617.4 184.05 L618.24 184.72 L619.09 185.37 L619.94 186.01 L620.78 186.62 L621.63 187.22 L622.48 187.8 L623.32 188.36 L624.17 188.9 L625.02 189.43 L625.86 189.95 L626.71 190.44 L627.56 190.92 L628.4 191.39 L629.25 191.84 L630.1 192.28 L630.94 192.7 L631.79 193.11 L632.64 193.51 L633.48 193.89 L634.33 194.26 L635.18 194.62 L636.02 194.97 L636.87 195.3 L637.72 195.63 L638.56 195.94 L639.41 196.24 L640.26 196.53 L641.1 196.82 L641.95 197.09 L642.8 197.35 L643.64 197.61 L644.49 197.85 L645.34 198.09 L646.18 198.32 L647.03 198.54 L647.88 198.75 L648.72 198.96 L649.57 199.15 L650.42 199.34 L651.26 199.53 L652.11 199.71 L652.96 199.88 L653.8 200.04 L654.65 200.2 L655.5 200.35 L656.34 200.5 L657.19 200.65 L658.03 200.78 L658.88 200.92 L659.73 201.04 L660.57 201.17 L661.42 201.28 L662.27 201.4 L663.11 201.51 L663.96 201.62 L664.81 201.72 L665.65 201.82 L666.5 201.91 L667.35 202 L668.19 202.09 L669.04 202.17 L669.89 202.26 L670.73 202.33 L671.58 202.41 L672.43 202.48 L673.27 202.55 L674.12 202.62 L674.97 202.69 L675.81 202.75 L676.66 202.81 L677.51 202.87 L678.35 202.92 L679.2 202.98" stroke="#FF8000" stroke-width="1.25" fill="none" stroke-linejoin="round"></path>
<path d="M430.2 63.01V81.7M427.2 63.01H433.2M427.2 81.7H433.2" stroke="#FF0000" stroke-width="1.2" fill="none"></path>
<path d="M430.2 68.91L433.2 75.21L427.2 75.21Z" fill="#FF0000"></path>
<path d="M480 67.54V74.06M477 67.54H483M477 74.06H483" stroke="#FF0000" stroke-width="1.2" fill="none"></path>
<path d="M480 67.35L483 73.65L477 73.65Z" fill="#FF0000"></path>
<path d="M503.7 59.89V69.81M500.7 59.89H506.7M500.7 69.81H506.7" stroke="#FF0000" stroke-width="1.2" fill="none"></path>
<path d="M503.7 61.4L506.7 67.7L500.7 67.7Z" fill="#FF0000"></path>
<path d="M514.51 64.14V68.39M511.51 64.14H517.51M511.51 68.39H517.51" stroke="#FF0000" stroke-width="1.2" fill="none"></path>
<path d="M514.51 62.82L517.51 69.12L511.51 69.12Z" fill="#FF0000"></path>
<path d="M529.8 68.53V77.03M526.8 68.53H532.8M526.8 77.03H532.8" stroke="#FF0000" stroke-width="1.2" fill="none"></path>
<path d="M529.8 69.33L532.8 75.63L526.8 75.63Z" fill="#FF0000"></path>
<path d="M553.7 96.01V103.09M550.7 96.01H556.7M550.7 103.09H556.7" stroke="#FF0000" stroke-width="1.2" fill="none"></path>
<path d="M553.7 96.1L556.7 102.4L550.7 102.4Z" fill="#FF0000"></path>
<path d="M564.66 110.88V117.96M561.66 110.88H567.66M561.66 117.96H567.66" stroke="#FF0000" stroke-width="1.2" fill="none"></path>
<path d="M564.66 110.97L567.66 117.27L561.66 117.27Z" fill="#FF0000"></path>
<path d="M579.6 144.3V159.31M576.6 144.3H582.6M576.6 159.31H582.6" stroke="#FF0000" stroke-width="1.2" fill="none"></path>
<path d="M579.6 148.36L582.6 154.66L576.6 154.66Z" fill="#FF0000"></path>
<path d="M629.4 194.1L632.4 200.4L626.4 200.4Z" fill="#FF0000"></path>
<path d="M679.2 198.07L682.2 204.37L676.2 204.37Z" fill="#FF0000"></path>
<path d="M430.2 60.18V65.84M427.2 60.18H433.2M427.2 65.84H433.2" stroke="#0000FF" stroke-width="1.2" fill="none"></path>
<rect x="427.2" y="60.01" width="6" height="6" fill="#0000FF"></rect>
<path d="M480 54.94V79.01M477 54.94H483M477 79.01H483" stroke="#0000FF" stroke-width="1.2" fill="none"></path>
<rect x="477" y="63.97" width="6" height="6" fill="#0000FF"></rect>
<path d="M514.51 51.4V65.56M511.51 51.4H517.51M511.51 65.56H517.51" stroke="#0000FF" stroke-width="1.2" fill="none"></path>
<rect x="511.51" y="55.48" width="6" height="6" fill="#0000FF"></rect>
<path d="M529.8 53.94V63.57M526.8 53.94H532.8M526.8 63.57H532.8" stroke="#0000FF" stroke-width="1.2" fill="none"></path>
<rect x="526.8" y="55.76" width="6" height="6" fill="#0000FF"></rect>
<rect x="550.7" y="57.74" width="6" height="6" fill="#0000FF"></rect>
<path d="M564.66 76.6V88.5M561.66 76.6H567.66M561.66 88.5H567.66" stroke="#0000FF" stroke-width="1.2" fill="none"></path>
<rect x="561.66" y="79.55" width="6" height="6" fill="#0000FF"></rect>
<path d="M579.6 108.05V115.13M576.6 108.05H582.6M576.6 115.13H582.6" stroke="#0000FF" stroke-width="1.2" fill="none"></path>
<rect x="576.6" y="108.59" width="6" height="6" fill="#0000FF"></rect>
<rect x="626.4" y="184.92" width="6" height="6" fill="#0000FF"></rect>
<path d="M679.2 196.42V198.69M676.2 196.42H682.2M676.2 198.69H682.2" stroke="#0000FF" stroke-width="1.2" fill="none"></path>
<rect x="676.2" y="194.55" width="6" height="6" fill="#0000FF"></rect>
<path d="M430.2 55.5V69.1M427.2 55.5H433.2M427.2 69.1H433.2" stroke="#000000" stroke-width="1.2" fill="none"></path>
<circle cx="430.2" cy="62.3" r="3.06" fill="#000000"></circle>
<circle cx="480" cy="63.01" r="3.06" fill="#000000"></circle>
<circle cx="514.51" cy="59.47" r="3.06" fill="#000000"></circle>
<path d="M524.42 49.98V64.14M521.42 49.98H527.42M521.42 64.14H527.42" stroke="#000000" stroke-width="1.2" fill="none"></path>
<circle cx="524.42" cy="57.06" r="3.06" fill="#000000"></circle>
<path d="M529.8 50.69V66.27M526.8 50.69H532.8M526.8 66.27H532.8" stroke="#000000" stroke-width="1.2" fill="none"></path>
<circle cx="529.8" cy="58.48" r="3.06" fill="#000000"></circle>
<circle cx="553.7" cy="65.98" r="3.06" fill="#000000"></circle>
<path d="M564.66 74.76V86.09M561.66 74.76H567.66M561.66 86.09H567.66" stroke="#000000" stroke-width="1.2" fill="none"></path>
<circle cx="564.66" cy="80.43" r="3.06" fill="#000000"></circle>
<path d="M579.6 104.93V112.86M576.6 104.93H582.6M576.6 112.86H582.6" stroke="#000000" stroke-width="1.2" fill="none"></path>
<circle cx="579.6" cy="108.89" r="3.06" fill="#000000"></circle>
<circle cx="629.4" cy="188.2" r="3.06" fill="#000000"></circle>
<circle cx="679.2" cy="200.1" r="3.06" fill="#000000"></circle>
<path d="M425.72 66.74L428.72 60.44L422.72 60.44Z" fill="#FF8000"></path>
<path d="M430.2 52.24V65.27M427.2 52.24H433.2M427.2 65.27H433.2" stroke="#FF8000" stroke-width="1.2" fill="none"></path>
<path d="M430.2 62.21L433.2 55.91L427.2 55.91Z" fill="#FF8000"></path>
<path d="M480 51.4V59.33M477 51.4H483M477 59.33H483" stroke="#FF8000" stroke-width="1.2" fill="none"></path>
<path d="M480 58.81L483 52.51L477 52.51Z" fill="#FF8000"></path>
<path d="M503.7 61.31V66.97M500.7 61.31H506.7M500.7 66.97H506.7" stroke="#FF8000" stroke-width="1.2" fill="none"></path>
<path d="M503.7 67.59L506.7 61.29L500.7 61.29Z" fill="#FF8000"></path>
<path d="M514.51 46.72V67.4M511.51 46.72H517.51M511.51 67.4H517.51" stroke="#FF8000" stroke-width="1.2" fill="none"></path>
<path d="M514.51 60.51L517.51 54.21L511.51 54.21Z" fill="#FF8000"></path>
<path d="M524.42 53.8V66.55M521.42 53.8H527.42M521.42 66.55H527.42" stroke="#FF8000" stroke-width="1.2" fill="none"></path>
<path d="M524.42 63.63L527.42 57.33L521.42 57.33Z" fill="#FF8000"></path>
<path d="M529.8 58.05V68.81M526.8 58.05H532.8M526.8 68.81H532.8" stroke="#FF8000" stroke-width="1.2" fill="none"></path>
<path d="M529.8 66.88L532.8 60.58L526.8 60.58Z" fill="#FF8000"></path>
<path d="M553.7 69.38V79.01M550.7 69.38H556.7M550.7 79.01H556.7" stroke="#FF8000" stroke-width="1.2" fill="none"></path>
<path d="M553.7 77.65L556.7 71.35L550.7 71.35Z" fill="#FF8000"></path>
<path d="M564.66 100.26V107.34M561.66 100.26H567.66M561.66 107.34H567.66" stroke="#FF8000" stroke-width="1.2" fill="none"></path>
<path d="M564.66 107.25L567.66 100.95L561.66 100.95Z" fill="#FF8000"></path>
<path d="M579.6 143.88V151.81M576.6 143.88H582.6M576.6 151.81H582.6" stroke="#FF8000" stroke-width="1.2" fill="none"></path>
<path d="M579.6 151.29L582.6 144.99L576.6 144.99Z" fill="#FF8000"></path>
<path d="M629.4 193.44V196.84M626.4 193.44H632.4M626.4 196.84H632.4" stroke="#FF8000" stroke-width="1.2" fill="none"></path>
<path d="M629.4 198.59L632.4 192.29L626.4 192.29Z" fill="#FF8000"></path>
<path d="M679.2 197.27V201.52M676.2 197.27H682.2M676.2 201.52H682.2" stroke="#FF8000" stroke-width="1.2" fill="none"></path>
<path d="M679.2 202.84L682.2 196.54L676.2 196.54Z" fill="#FF8000"></path>
<g style="font-family:'Liberation Sans',sans-serif;font-weight:bold;font-kerning:none" fill="#000">
<text transform="translate(52.4 209.1) scale(1 1.04)" font-size="12.8" text-anchor="end">0.0</text>
<text transform="translate(52.4 175.04) scale(1 1.04)" font-size="12.8" text-anchor="end">0.<tspan class="g1">1</tspan></text><g transform="translate(52.4 175.04) scale(1 1.04)" fill="rgb(0, 0, 0)"><path d="M490 0L490 1150L140 945L140 1175L510 1409L790 1409L790 0Z" transform="translate(-7.122 0.000) scale(0.006250 -0.006250)"></path></g>
<text transform="translate(52.4 140.98) scale(1 1.04)" font-size="12.8" text-anchor="end">0.2</text>
<text transform="translate(52.4 106.92) scale(1 1.04)" font-size="12.8" text-anchor="end">0.3</text>
<text transform="translate(52.4 72.86) scale(1 1.04)" font-size="12.8" text-anchor="end">0.4</text>
<text transform="translate(52.4 38.8) scale(1 1.04)" font-size="12.8" text-anchor="end">0.5</text>
<text x="61" y="226.1" font-size="12.8" text-anchor="middle">0</text>
<text x="111.8" y="226.1" font-size="12.8" text-anchor="middle">2</text>
<text x="162.6" y="226.1" font-size="12.8" text-anchor="middle">4</text>
<text x="213.4" y="226.1" font-size="12.8" text-anchor="middle">6</text>
<text x="264.2" y="226.1" font-size="12.8" text-anchor="middle">8</text>
<text x="315" y="226.1" font-size="12.8" text-anchor="middle"><tspan class="g1">1</tspan>0</text><g fill="rgb(0, 0, 0)"><path d="M490 0L490 1150L140 945L140 1175L510 1409L790 1409L790 0Z" transform="translate(307.875 226.100) scale(0.006250 -0.006250)"></path></g>
<text transform="translate(416.6 208.95) scale(1 1.04)" font-size="12.8" text-anchor="end">0</text>
<text transform="translate(416.6 180.62) scale(1 1.04)" font-size="12.8" text-anchor="end">20</text>
<text transform="translate(416.6 152.3) scale(1 1.04)" font-size="12.8" text-anchor="end">40</text>
<text transform="translate(416.6 123.97) scale(1 1.04)" font-size="12.8" text-anchor="end">60</text>
<text transform="translate(416.6 95.65) scale(1 1.04)" font-size="12.8" text-anchor="end">80</text>
<text transform="translate(416.6 67.32) scale(1 1.04)" font-size="12.8" text-anchor="end"><tspan class="g1">1</tspan>00</text><g transform="translate(416.6 67.32) scale(1 1.04)" fill="rgb(0, 0, 0)"><path d="M490 0L490 1150L140 945L140 1175L510 1409L790 1409L790 0Z" transform="translate(-21.350 0.000) scale(0.006250 -0.006250)"></path></g>
<text transform="translate(416.6 39) scale(1 1.04)" font-size="12.8" text-anchor="end"><tspan class="g1">1</tspan>20</text><g transform="translate(416.6 39) scale(1 1.04)" fill="rgb(0, 0, 0)"><path d="M490 0L490 1150L140 945L140 1175L510 1409L790 1409L790 0Z" transform="translate(-21.350 0.000) scale(0.006250 -0.006250)"></path></g>
<text x="430.4" y="226.1" font-size="12.8" text-anchor="middle">-<tspan class="g1">1</tspan>2</text><g fill="rgb(0, 0, 0)"><path d="M490 0L490 1150L140 945L140 1175L510 1409L790 1409L790 0Z" transform="translate(425.408 226.100) scale(0.006250 -0.006250)"></path></g>
<text x="480.2" y="226.1" font-size="12.8" text-anchor="middle">-<tspan class="g1">1</tspan><tspan class="g1">1</tspan></text><g fill="rgb(0, 0, 0)"><path d="M490 0L490 1150L140 945L140 1175L510 1409L790 1409L790 0Z" transform="translate(475.208 226.100) scale(0.006250 -0.006250)"></path><path d="M490 0L490 1150L140 945L140 1175L510 1409L790 1409L790 0Z" transform="translate(482.333 226.100) scale(0.006250 -0.006250)"></path></g>
<text x="530" y="226.1" font-size="12.8" text-anchor="middle">-<tspan class="g1">1</tspan>0</text><g fill="rgb(0, 0, 0)"><path d="M490 0L490 1150L140 945L140 1175L510 1409L790 1409L790 0Z" transform="translate(525.008 226.100) scale(0.006250 -0.006250)"></path></g>
<text x="579.8" y="226.1" font-size="12.8" text-anchor="middle">-9</text>
<text x="629.6" y="226.1" font-size="12.8" text-anchor="middle">-8</text>
<text x="679.4" y="226.1" font-size="12.8" text-anchor="middle">-7</text>
<text x="188.5" y="246.6" font-size="14.2" text-anchor="middle">Free [nM]</text>
<text x="552.8" y="246.8" font-size="14.1" text-anchor="middle">Log concentration [nM]</text>
<text transform="translate(26.3 119) rotate(-90)" font-size="14.2" text-anchor="middle">Bound [nM]</text>
<text transform="translate(387.4 118.9) rotate(-90)" font-size="14.3" text-anchor="middle">Specific binding (%)</text>
<text x="188.5" y="12.8" font-size="16.5" text-anchor="middle">Saturation binding</text>
<text x="552.9" y="12.8" font-size="16.5" text-anchor="middle">Inhibition</text>
<text x="31" y="13.5" font-size="16">A</text>
<text x="397.3" y="13" font-size="16">B</text>
</g>
<g style="font-family:'Liberation Sans',sans-serif" fill="#1a1a1a" stroke="#1a1a1a" stroke-width="0.25" font-size="11.3">
<text x="18.7" y="282.8">[<tspan font-size="7.5" dy="-3.6"><tspan class="g1">1</tspan>77</tspan><tspan dy="3.6">Lu]Lu-DOTA-LM3</tspan></text><g fill="rgb(26, 26, 26)"><path d="M515 0L515 1237L197 1010L197 1180L530 1409L696 1409L696 0Z" transform="translate(21.841 279.200) scale(0.003662 -0.003662)" stroke="rgb(26, 26, 26)" stroke-width="0.25px" vector-effect="non-scaling-stroke"></path></g>
<text x="162" y="282.8">[<tspan font-size="7.5" dy="-3.6"><tspan class="g1">1</tspan>77</tspan><tspan dy="3.6">Lu]Lu-DOTA-[ʟ2Pal<tspan font-size="7.5" dy="-3.6">3</tspan><tspan dy="3.6">]</tspan>-LM3</tspan></text><g fill="rgb(26, 26, 26)"><path d="M515 0L515 1237L197 1010L197 1180L530 1409L696 1409L696 0Z" transform="translate(165.141 279.200) scale(0.003662 -0.003662)" stroke="rgb(26, 26, 26)" stroke-width="0.25px" vector-effect="non-scaling-stroke"></path></g>
<text x="362.7" y="282.8">[<tspan font-size="7.5" dy="-3.6"><tspan class="g1">1</tspan>77</tspan><tspan dy="3.6">Lu]Lu-DOTA-[3Pal<tspan font-size="7.5" dy="-3.6">3</tspan><tspan dy="3.6">]</tspan>-LM3</tspan></text><g fill="rgb(26, 26, 26)"><path d="M515 0L515 1237L197 1010L197 1180L530 1409L696 1409L696 0Z" transform="translate(365.841 279.200) scale(0.003662 -0.003662)" stroke="rgb(26, 26, 26)" stroke-width="0.25px" vector-effect="non-scaling-stroke"></path></g>
<text x="540.5" y="282.8">[<tspan font-size="7.5" dy="-3.6"><tspan class="g1">1</tspan>77</tspan><tspan dy="3.6">Lu]Lu-DOTA-[4Pal<tspan font-size="7.5" dy="-3.6">3</tspan><tspan dy="3.6">]</tspan>-LM3</tspan></text><g fill="rgb(26, 26, 26)"><path d="M515 0L515 1237L197 1010L197 1180L530 1409L696 1409L696 0Z" transform="translate(543.641 279.200) scale(0.003662 -0.003662)" stroke="rgb(26, 26, 26)" stroke-width="0.25px" vector-effect="non-scaling-stroke"></path></g>
</g>
<path d="M0 274.4H9L4.5 283.6Z" fill="#FF6600"></path>
<circle cx="148.2" cy="278.7" r="4.55" fill="#000"></circle>
<rect x="344.1" y="274.5" width="9.1" height="8.9" fill="#0000CC"></rect>
<path d="M519.4 283.9H528.6L524 274.7Z" fill="#FF0000"></path>
</svg>

</body></html>
